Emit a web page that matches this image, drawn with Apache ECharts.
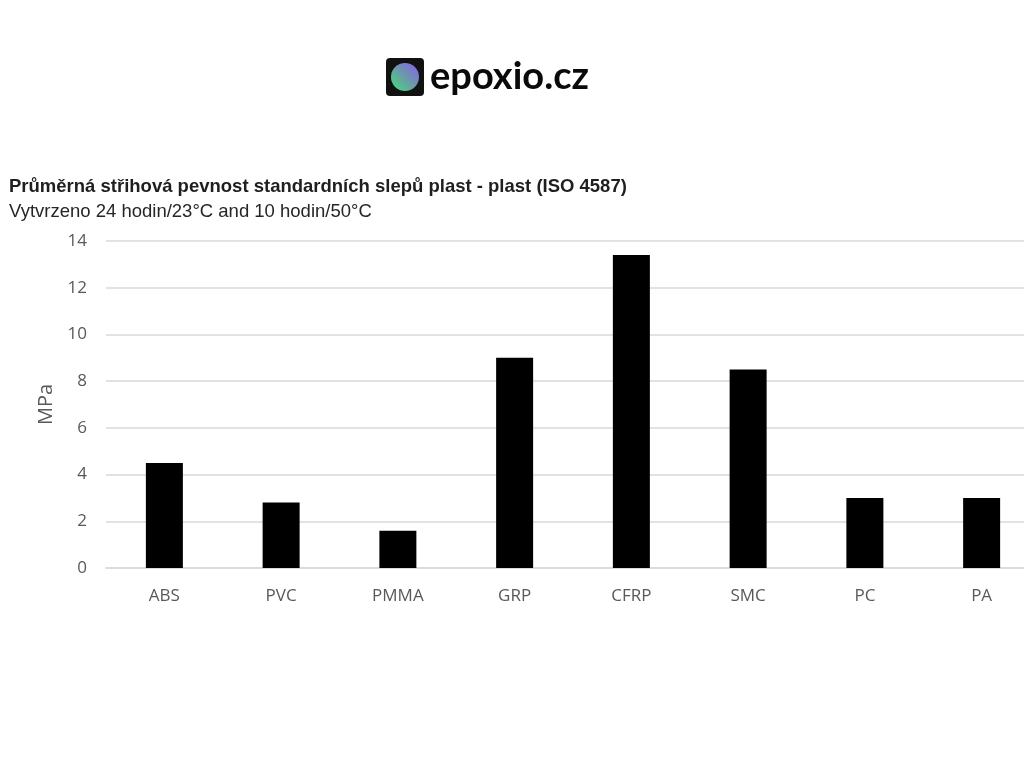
<!DOCTYPE html>
<html><head><meta charset="utf-8">
<script src="https://cdn.jsdelivr.net/npm/echarts@6/dist/echarts.min.js"></script>
<style>html,body{margin:0;padding:0;background:#fff;overflow:hidden}#c{width:1040px;height:768px}</style>
</head><body><div id="c"></div>
<script>
const categories = ['ABS','PVC','PMMA','GRP','CFRP','SMC','PC','PA'];
const values = [4.5, 2.8, 1.6, 9.0, 13.4, 8.5, 3.0, 3.0];
const yTicks = [0, 2, 4, 6, 8, 10, 12, 14];
const titleText = 'Průměrná střihová pevnost standardních slepů plast - plast (ISO 4587)';
const subtitleText = 'Vytvrzeno 24 hodin/23°C and 10 hodin/50°C';
const yName = 'MPa';
const logoText = 'epoxio.cz';

const chart = echarts.init(document.getElementById('c'));
chart.setOption({
  backgroundColor: '#fff',
  animation: false,
  title: {
    text: titleText, subtext: subtitleText, left: 4, top: 172, itemGap: 6,
    textStyle: {fontFamily: 'Liberation Sans', fontWeight: 'bold', fontSize: 18.5, color: '#1f1f1f'},
    subtextStyle: {fontFamily: 'Liberation Sans', fontSize: 18.5, color: '#262626'}
  },
  graphic: [
    {type: 'rect', shape: {x: 386, y: 58, width: 38, height: 38, r: 4}, style: {fill: '#111'}},
    {type: 'circle', shape: {cx: 405, cy: 77, r: 14}, style: {fill: new echarts.graphic.LinearGradient(0, 1, 1, 0, [{offset: 0, color: '#3ee27a'}, {offset: 0.5, color: '#6b9aa8'}, {offset: 1, color: '#8a5cf0'}])}},
    {type: 'text', x: 430, y: 77, style: {text: logoText, verticalAlign: 'middle', align: 'left', font: 'bold 38px Lato', fill: '#0a0a0a'}}
  ],
  grid: {left: 106, top: 241, right: 0, height: 327},
  xAxis: {
    type: 'category', data: categories,
    axisLine: {show: true, lineStyle: {color: '#d9d9d9', width: 1.5}},
    axisTick: {show: false},
    axisLabel: {fontFamily: 'Open Sans', fontSize: 17, color: '#595959', margin: 20}
  },
  yAxis: {
    type: 'value', min: yTicks[0], max: yTicks[yTicks.length - 1], interval: 2,
    name: yName, nameLocation: 'middle', nameGap: 48,
    nameTextStyle: {fontFamily: 'Open Sans', fontSize: 20, color: '#595959'},
    axisLine: {show: false}, axisTick: {show: false},
    axisLabel: {fontFamily: 'Open Sans', fontSize: 17, color: '#595959', margin: 19},
    splitLine: {lineStyle: {color: '#d9d9d9', width: 1.5}}
  },
  series: [{
    type: 'bar', data: values, barWidth: 37,
    itemStyle: {color: '#000'}
  }]
});
</script></body></html>
